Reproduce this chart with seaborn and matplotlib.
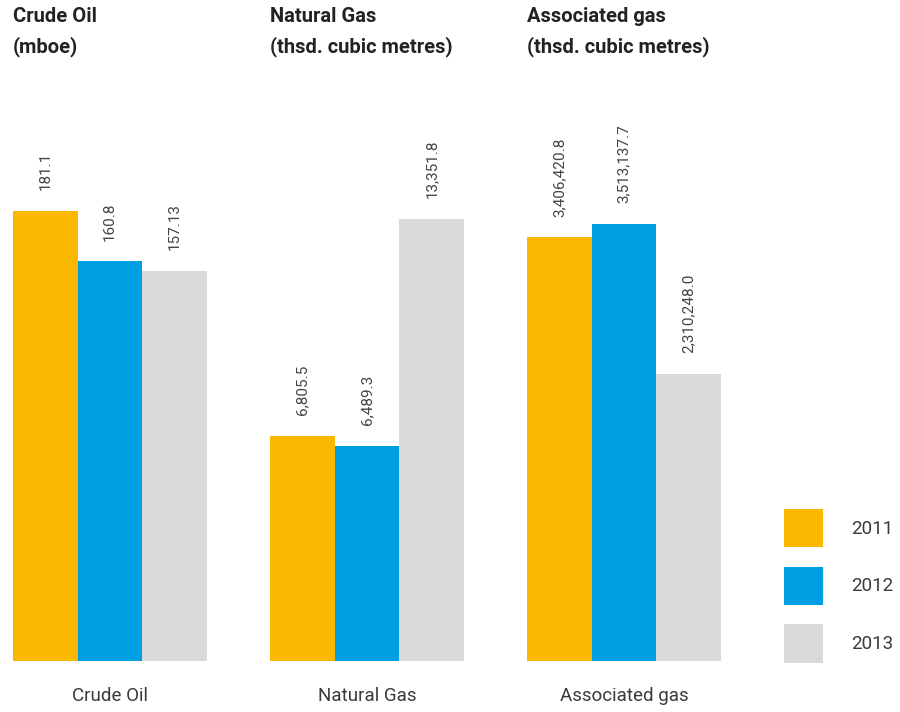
import matplotlib
matplotlib.use("Agg")
import matplotlib.pyplot as plt
from matplotlib.patches import Patch
import pandas as pd
import seaborn as sns

# Production by product and year
years = ["2011", "2012", "2013"]
products = ["Crude Oil", "Natural Gas", "Associated gas"]
titles = ["Crude Oil\n(mboe)", "Natural Gas\n(thsd. cubic metres)",
          "Associated gas\n(thsd. cubic metres)"]
crude_oil = [181.1, 160.8, 157.13]
natural_gas = [6805.5, 6489.3, 13351.8]
associated_gas = [3406420.8, 3513137.7, 2310248.0]
value_labels = [
    ["181.1", "160.8", "157.13"],
    ["6,805.5", "6,489.3", "13,351.8"],
    ["3,406,420.8", "3,513,137.7", "2,310,248.0"],
]

colors = ["#FAB800", "#009FE3", "#D9D9D9"]
text_color = "#3A3A3A"

sns.set_theme(style="white")
plt.rcParams["font.family"] = ["Roboto", "DejaVu Sans"]

W, H = 900, 712
fig = plt.figure(figsize=(W / 100, H / 100), dpi=100)

series = [crude_oil, natural_gas, associated_gas]
lefts = [13, 270, 527]
axis_bottom, axis_top = 661, 80
# fraction of the axis height filled by the tallest bar in each panel
fill = [0.7745, 0.7608, 0.752]

for i, (vals, left) in enumerate(zip(series, lefts)):
    ax = fig.add_axes([left / W, (H - axis_bottom) / H, 194 / W,
                       (axis_bottom - axis_top) / H])
    df = pd.DataFrame({"year": years, "value": vals})
    sns.barplot(data=df, x="year", y="value", hue="year", palette=colors,
                width=1.0, saturation=1, legend=False, linewidth=0,
                edgecolor="none", ax=ax)
    ax.set_xlim(-0.5, 2.5)
    ax.set_ylim(0, max(vals) / fill[i])
    for c, labels in zip(ax.containers, [[l] for l in value_labels[i]]):
        ax.bar_label(c, labels=labels, rotation=90, padding=15,
                     fontsize=11, color="#444444")
    ax.set_xticks([1], [products[i]])
    ax.tick_params(axis="x", length=0, pad=19, labelsize=13.5,
                   labelcolor=text_color)
    ax.set_yticks([])
    ax.set_xlabel("")
    ax.set_ylabel("")
    for s in ax.spines.values():
        s.set_visible(False)
    fig.text(left / W, 1 - 7 / H, titles[i], ha="left", va="top",
             fontsize=14.5, fontweight="bold", color="#222222",
             linespacing=1.65)

handles = [Patch(facecolor=c, edgecolor="none", label=y)
           for c, y in zip(colors, years)]
leg = fig.legend(handles=handles, loc="upper left",
                 bbox_to_anchor=(767 / W, 1 - 492 / H),
                 frameon=False, fontsize=13.5, handlelength=2.1,
                 handleheight=2.75, labelspacing=1.05, handletextpad=1.5)
for t in leg.get_texts():
    t.set_color(text_color)

fig.savefig("out.png", dpi=100)
